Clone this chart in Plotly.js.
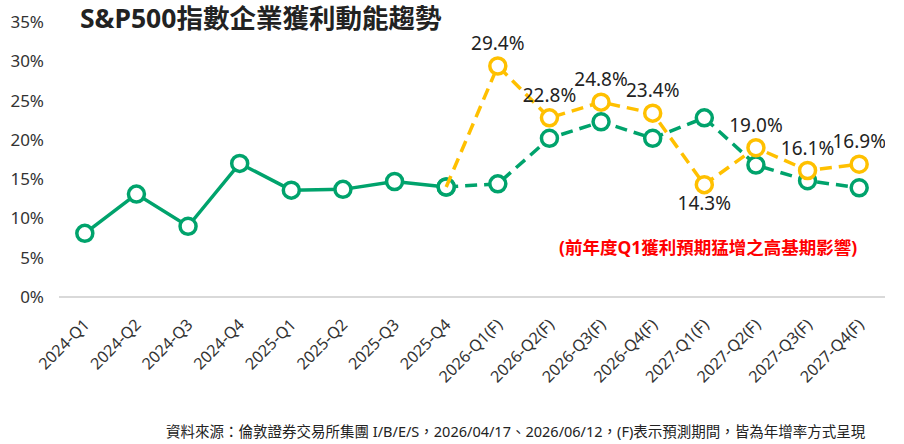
<!DOCTYPE html>
<html>
<head>
<meta charset="utf-8">
<script src="https://cdn.plot.ly/plotly-3.0.1.min.js"></script>
<style>
  html, body { margin: 0; padding: 0; background: #fff; }
  #chart { width: 904px; height: 444px; }
</style>
</head>
<body>
<div id="chart"></div>
<script>
const quarters = [
  '2024-Q1', '2024-Q2', '2024-Q3', '2024-Q4',
  '2025-Q1', '2025-Q2', '2025-Q3', '2025-Q4',
  '2026-Q1(F)', '2026-Q2(F)', '2026-Q3(F)', '2026-Q4(F)',
  '2027-Q1(F)', '2027-Q2(F)', '2027-Q3(F)', '2027-Q4(F)',
];

// actual growth, 2024-Q1 .. 2025-Q4
const actualGrowth = [8.1, 13.1, 9.0, 17.0, 13.6, 13.7, 14.7, 14.0];

// estimate as of 2026/06/12, 2025-Q4 .. 2027-Q4
const latestEstimate = [14.0, 14.4, 20.2, 22.3, 20.2, 22.8, 16.8, 14.8, 13.9];

// estimate as of 2026/04/17, 2025-Q4 .. 2027-Q4
const earlierEstimate = [14.0, 29.4, 22.8, 24.8, 23.4, 14.3, 19.0, 16.1, 16.9];

const titleText = 'S&P500指數企業獲利動能趨勢';
const noteText = '(前年度Q1獲利預期猛增之高基期影響)';
const sourceText = '資料來源：倫敦證券交易所集團 I/B/E/S，2026/04/17、2026/06/12，(F)表示預測期間，皆為年增率方式呈現';

const green = '#00A36C';
const gold = '#FFC000';
const font = 'Noto Sans, Noto Sans CJK TC, sans-serif';

const forecastX = quarters.slice(actualGrowth.length - 1);

const markerStyle = (color) => ({
  symbol: 'circle',
  size: 16,
  opacity: 1,
  color: '#fff',
  line: { color: color, width: 3.5 },
});

const traces = [
  {
    x: quarters.slice(0, actualGrowth.length),
    y: actualGrowth,
    type: 'scatter',
    mode: 'lines+markers',
    line: { color: green, width: 3.5 },
    marker: markerStyle(green),
    hoverinfo: 'skip',
  },
  {
    x: forecastX,
    y: latestEstimate,
    type: 'scatter',
    mode: 'lines+markers',
    line: { color: green, width: 3.5, dash: '12px,7px' },
    marker: markerStyle(green),
    hoverinfo: 'skip',
  },
  {
    x: forecastX,
    y: earlierEstimate,
    type: 'scatter',
    mode: 'lines+markers+text',
    line: { color: gold, width: 3.5, dash: '12px,7px' },
    marker: {
      ...markerStyle(gold),
      size: earlierEstimate.map((v, i) => (i === 0 ? 0 : 16)),
    },
    text: earlierEstimate.map((v, i) => (i === 0 ? '' : v.toFixed(1) + '%')),
    textposition: earlierEstimate.map((v, i) =>
      i > 0 && v < earlierEstimate[i - 1] && v < latestEstimate[i] ? 'bottom center' : 'top center'),
    textfont: { family: font, size: 19, color: '#222' },
    hoverinfo: 'skip',
  },
];

const layout = {
  width: 904,
  height: 444,
  margin: { l: 59, r: 19, t: 22, b: 147 },
  paper_bgcolor: '#fff',
  plot_bgcolor: '#fff',
  showlegend: false,
  font: { family: font, color: '#333' },
  title: {
    text: '<b>' + titleText.replace('&', '&amp;') + '</b>',
    font: { family: font, size: 26.5, color: '#222' },
    x: 80 / 904,
    xref: 'container',
    xanchor: 'left',
    y: 1 - 19 / 444,
    yref: 'container',
    yanchor: 'middle',
  },
  xaxis: {
    type: 'category',
    categoryorder: 'array',
    categoryarray: quarters,
    range: [-0.5, quarters.length - 0.5],
    showgrid: false,
    showline: false,
    zeroline: false,
    ticks: '',
    tickangle: -45,
    ticklabelstandoff: 14,
    tickfont: { family: font, size: 16, color: '#333' },
  },
  yaxis: {
    range: [0, 35],
    dtick: 5,
    ticksuffix: '%',
    showgrid: false,
    zeroline: true,
    zerolinecolor: '#d9d9d9',
    zerolinewidth: 1.5,
    showline: false,
    ticks: '',
    ticklabelstandoff: 14,
    tickfont: { family: font, size: 17, color: '#333' },
  },
  annotations: [
    {
      text: '<b>' + noteText + '</b>',
      xref: 'paper',
      yref: 'paper',
      x: (708 - 59) / 826,
      y: (297 - 247) / 275,
      xanchor: 'center',
      yanchor: 'middle',
      showarrow: false,
      font: { family: font, size: 17.5, color: '#FF0000' },
    },
    {
      text: sourceText,
      xref: 'paper',
      yref: 'paper',
      x: (868 - 59) / 826,
      y: (297 - 431) / 275,
      xanchor: 'right',
      yanchor: 'middle',
      showarrow: false,
      font: { family: font, size: 14.5, color: '#222' },
    },
  ],
};

Plotly.newPlot('chart', traces, layout, { displayModeBar: false, staticPlot: true });
</script>
</body>
</html>
